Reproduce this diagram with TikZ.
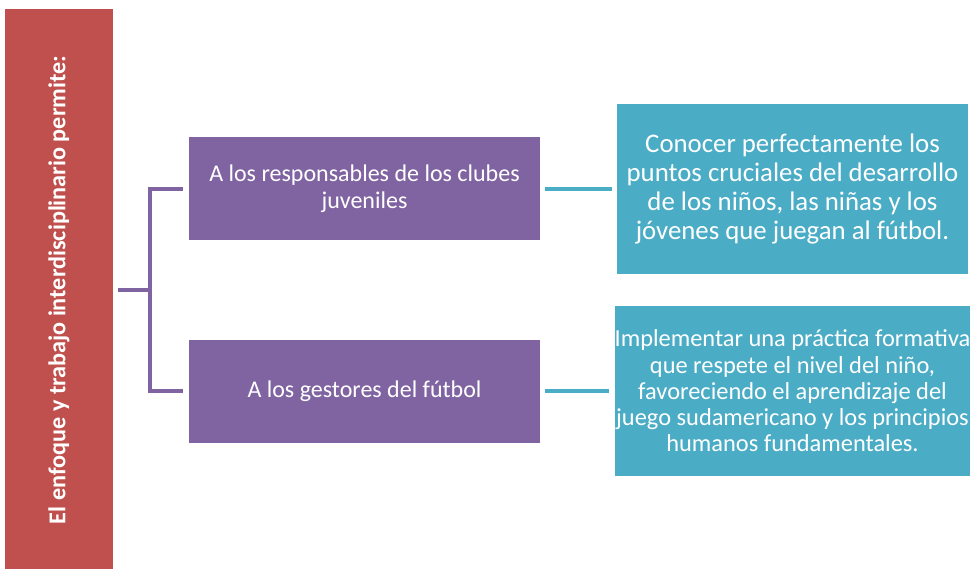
\documentclass[tikz,border=0pt]{standalone}
\usepackage{fontspec}
\setmainfont{Carlito}
\usepackage{tikz}
\usetikzlibrary{trees}
\definecolor{rojo}{HTML}{C0504D}
\definecolor{violeta}{HTML}{8064A2}
\definecolor{turquesa}{HTML}{4BACC6}

\begin{document}
\begin{tikzpicture}[x=1pt, y=1pt,
                enfoque/.style={fill=rojo, text=white, minimum width=108pt,
                  minimum height=561pt, inner sep=0pt,
                  font=\bfseries\fontsize{24.2}{28}\selectfont},
                actor/.style={fill=violeta, text=white, minimum width=351pt,
                  minimum height=103pt, inner sep=0pt, align=center,
                  font=\fontsize{24}{27}\selectfont},
                logro/.style={fill=turquesa, text=white, minimum width=351pt,
                  minimum height=170pt, inner sep=0pt, align=center},
                level 1/.style={parent anchor=east, child anchor=west,
                  edge from parent/.style={draw=violeta, line width=4pt,
                    shorten <=5pt, shorten >=6pt}},
                level 2/.style={parent anchor=east, child anchor=west,
                  edge from parent/.style={draw=turquesa, line width=4pt,
                    shorten <=5pt, shorten >=5pt},
                  edge from parent path={(\tikzparentnode\tikzparentanchor) --
                    (\tikzchildnode\tikzchildanchor)}}
                ]
                \useasboundingbox (0,0) rectangle (974,-569);
                \node[enfoque] (enfoque) at (59,-290)
                {\rotatebox{90}{El enfoque y trabajo interdisciplinario permite:}}
                [grow via three points={one child at (305.5,0) and two children at
                  (305.5,101) and (305.5,-101)}, edge from parent fork right,
                  level distance=74pt]
                child {node[actor] (responsables) {A los responsables de los clubes\\juveniles}
                  [grow via three points={one child at (428,0) and two children at
                      (428,0) and (428,0)}]
                  child {node[logro, font=\fontsize{26.8}{29}\selectfont] (conocer)
                    {Conocer perfectamente los\\puntos cruciales del desarrollo\\
                      de los niños, las niñas y los\\jóvenes que juegan al fútbol.}}
                }
                child {node[actor] (gestores) {A los gestores del fútbol}
                  [grow via three points={one child at (428,0) and two children at
                      (428,0) and (428,0)}]
                  child {node[logro, font=\fontsize{24.4}{26.3}\selectfont] (implementar)
                    {Implementar una práctica formativa\\que respete el nivel del niño,\\
                      favoreciendo el aprendizaje del\\juego sudamericano y los principios\\
                      humanos fundamentales.}}
                }
                ;
              \end{tikzpicture}
\end{document}
